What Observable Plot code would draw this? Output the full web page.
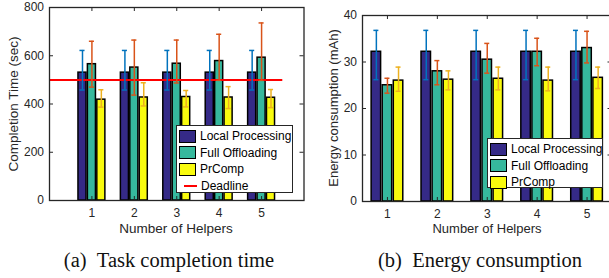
<!DOCTYPE html>
<html><head><meta charset="utf-8">
<script src="https://cdn.jsdelivr.net/npm/d3@7"></script>
<script src="https://cdn.jsdelivr.net/npm/@observablehq/plot@0.6"></script>
<style>
html,body{margin:0;padding:0;background:#fff;overflow:hidden}
#wrap{position:relative;width:609px;height:278px;overflow:hidden;font-family:"Liberation Sans",Arial,sans-serif;color:#262626}
.ylab{position:absolute;font-size:13.5px;white-space:nowrap;transform:translate(-50%,-50%) rotate(-90deg)}
.xlab{position:absolute;font-size:13.5px;white-space:nowrap;transform:translateX(-50%)}
.cap{position:absolute;font-family:"Liberation Serif","Times New Roman",serif;font-size:20.5px;color:#111;white-space:nowrap;transform:translateX(-50%)}
.legend{position:absolute;background:#fff;border:1px solid #262626;box-sizing:border-box;font-size:12px;color:#000;white-space:nowrap}
.row{position:absolute;left:2px;height:14px;display:flex;align-items:center;white-space:nowrap}
.sw{width:15px;height:11px;border:1.5px solid #000;margin-right:4px;box-sizing:content-box;flex:none}
.ln{width:13px;height:2px;background-color:#ff0000;margin:0 4px 0 5px;flex:none}
</style></head><body><div id="wrap"></div>
<script>
// ---- data ----
const helpers = [1, 2, 3, 4, 5];
const seriesNames = ["Local Processing", "Full Offloading", "PrComp"];
const barColors = ["#352a87", "#36b89d", "#f9fb0e"];
const errColors = ["#0072bd", "#d95319", "#edb120"];

// (a) Task completion time (sec)
const timeLocal = [530, 530, 530, 530, 530];
const timeLocalLo = [458, 458, 458, 458, 458];
const timeLocalHi = [622, 622, 622, 622, 622];
const timeFull = [565, 551, 567, 578, 592];
const timeFullLo = [470, 437, 487, 498, 498];
const timeFullHi = [660, 665, 665, 689, 736];
const timePr = [418, 427, 429, 427, 426];
const timePrLo = [387, 392, 388, 381, 385];
const timePrHi = [459, 488, 456, 472, 460];
const deadline = 500;
const deadlineSpan = [0, 5.5];
const timeTicks = [0, 200, 400, 600, 800];

// (b) Energy consumption (mAh)
const eLocal = [32.2, 32.2, 32.2, 32.2, 32.2];
const eLocalLo = [26.2, 26.2, 26.2, 26.2, 26.2];
const eLocalHi = [36.8, 36.8, 36.8, 36.8, 36.8];
const eFull = [25.0, 28.0, 30.5, 32.2, 33.0];
const eFullLo = [23.3, 25.1, 27.6, 29.2, 29.8];
const eFullHi = [26.5, 30.3, 34.0, 35.1, 36.6];
const ePr = [26.0, 26.2, 26.4, 26.0, 26.6];
const ePrLo = [23.7, 24.0, 24.0, 23.8, 24.3];
const ePrHi = [28.9, 28.1, 28.9, 28.9, 28.9];
const energyTicks = [0, 10, 20, 30, 40];

function rowsOf(vals, los, his) {
  const out = [];
  vals.forEach((arr, s) => helpers.forEach((h, i) => out.push({h, s, v: arr[i], lo: los[s][i], hi: his[s][i]})));
  return out;
}

const offsets = [-0.2222, 0, 0.2222];
const bw = 0.19;

function chart({rows, width, height, mL, mR, mT, mB, xDomain, yDomain, yTicks, capW, withDeadline}) {
  const plotH = height - mT - mB, plotW = width - mL - mR;
  const cx = d => d.h + offsets[d.s];
  const marks = [
    Plot.rectY(rows, {x1: d => cx(d) - bw / 2, x2: d => cx(d) + bw / 2, y1: 0, y2: "v", fill: d => barColors[d.s], stroke: "#000", strokeWidth: 1.5}),
  ];
  if (withDeadline) marks.push(Plot.ruleY([deadline], {y: d => d, x1: deadlineSpan[0], x2: deadlineSpan[1], stroke: "#ff0000", strokeWidth: 2}));
  marks.push(
    Plot.ruleX(rows, {x: cx, y1: "lo", y2: "hi", stroke: d => errColors[d.s], strokeWidth: 1.5}),
    Plot.ruleY(rows, {y: "hi", x1: d => cx(d) - capW, x2: d => cx(d) + capW, stroke: d => errColors[d.s], strokeWidth: 1.5}),
    Plot.ruleY(rows, {y: "lo", x1: d => cx(d) - capW, x2: d => cx(d) + capW, stroke: d => errColors[d.s], strokeWidth: 1.5}),
    Plot.frame({stroke: "#262626", strokeWidth: 1.3}),
    Plot.tickX(helpers, {x: d => d, insetTop: plotH - 4, stroke: "#262626"}),
    Plot.tickX(helpers, {x: d => d, insetBottom: plotH - 4, stroke: "#262626"}),
    Plot.tickY(yTicks, {y: d => d, insetRight: plotW - 4, stroke: "#262626"}),
    Plot.tickY(yTicks, {y: d => d, insetLeft: plotW - 4, stroke: "#262626"}),
    Plot.axisX(helpers, {tickSize: 0, tickPadding: 8, label: null, fontSize: 12}),
    Plot.axisY(yTicks, {tickSize: 0, tickPadding: 5.5, label: null, fontSize: 12})
  );
  return Plot.plot({
    width, height, marginLeft: mL, marginRight: mR, marginTop: mT, marginBottom: mB,
    style: {fontFamily: "Liberation Sans, Arial, sans-serif", color: "#262626", background: "transparent", overflow: "visible"},
    x: {domain: xDomain, label: null},
    y: {domain: yDomain, label: null},
    color: {type: "identity"},
    marks
  });
}

const wrap = document.getElementById("wrap");

const left = chart({
  rows: rowsOf([timeLocal, timeFull, timePr], [timeLocalLo, timeFullLo, timePrLo], [timeLocalHi, timeFullHi, timePrHi]),
  width: 310, height: 225, mL: 49, mR: 6.5, mT: 7, mB: 25,
  xDomain: [0, 6], yDomain: [0, 800], yTicks: timeTicks, capW: 0.06, withDeadline: true
});
left.style.position = "absolute"; left.style.left = "0px"; left.style.top = "0px";
wrap.appendChild(left);

const right = chart({
  rows: rowsOf([eLocal, eFull, ePr], [eLocalLo, eFullLo, ePrLo], [eLocalHi, eFullHi, ePrHi]),
  width: 313, height: 226, mL: 62, mR: 1.5, mT: 15, mB: 25,
  xDomain: [0.5, 5.5], yDomain: [0, 40], yTicks: energyTicks, capW: 0.05, withDeadline: false
});
right.style.position = "absolute"; right.style.left = "300px"; right.style.top = "0px";
wrap.appendChild(right);

function addDiv(cls, text, css) {
  const d = document.createElement("div");
  d.className = cls; d.textContent = text;
  Object.assign(d.style, css);
  wrap.appendChild(d);
  return d;
}
addDiv("ylab", "Completion Time (sec)", {left: "13px", top: "104px"});
addDiv("ylab", "Energy consumption (mAh)", {left: "333px", top: "108px", fontSize: "13px"});
addDiv("xlab", "Number of Helpers", {left: "176px", top: "221px"});
addDiv("xlab", "Number of Helpers", {left: "487px", top: "221px", fontSize: "13px"});
addDiv("cap", "(a)\u2002Task completion time", {left: "169px", top: "249px"});
addDiv("cap", "(b)\u2002Energy consumption", {left: "480px", top: "249px"});

function legend(x, y, w, h, withDeadline) {
  const lg = document.createElement("div");
  lg.className = "legend";
  Object.assign(lg.style, {left: x + "px", top: y + "px", width: w + "px", height: h + "px"});
  seriesNames.forEach((n, i) => {
    const r = document.createElement("div");
    r.className = "row"; r.style.top = (3 + i * 16.5) + "px";
    const sw = document.createElement("div"); sw.className = "sw"; sw.style.background = barColors[i];
    const t = document.createElement("span"); t.textContent = n;
    r.appendChild(sw); r.appendChild(t); lg.appendChild(r);
  });
  if (withDeadline) {
    const r = document.createElement("div");
    r.className = "row"; r.style.top = (3 + 3 * 16.5) + "px";
    const ln = document.createElement("div"); ln.className = "ln";
    const t = document.createElement("span"); t.textContent = "Deadline";
    r.appendChild(ln); r.appendChild(t); lg.appendChild(r);
  }
  wrap.appendChild(lg);
}
legend(176, 125, 117, 68, true);
legend(487, 138, 116, 50, false);
</script></body></html>
